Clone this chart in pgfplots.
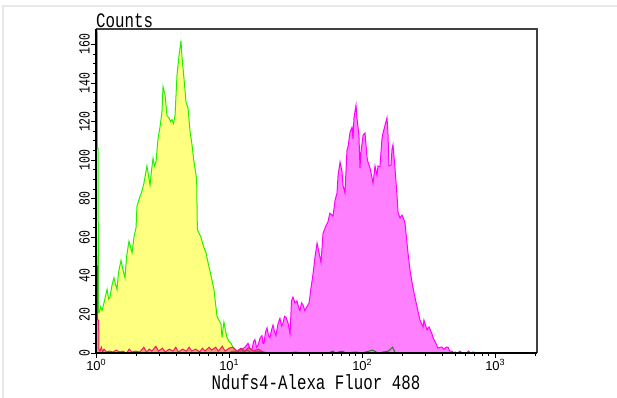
\documentclass[border=0pt]{standalone}
\usepackage{graphicx}
\usepackage{pgfplots}
\pgfplotsset{compat=1.18}
\usepackage{fontspec}
\setmainfont{Liberation Mono}
\newfontfamily\sansf{Liberation Sans}
\newfontfamily\monof{Liberation Mono}
\definecolor{yfill}{HTML}{FFFF80}
\definecolor{gline}{HTML}{22F000}
\definecolor{mfill}{HTML}{FF80FF}
\definecolor{mline}{HTML}{FF00FF}
\definecolor{rline}{HTML}{E8206A}
\definecolor{rfill}{HTML}{F04060}
\definecolor{dgreen}{HTML}{1E7A1E}
\newcommand\ys[1]{\scalebox{1}[1.35]{\monof\fontsize{11.5}{12}\selectfont #1}}
\newcommand\xt[1]{{\sansf\fontsize{13}{13}\selectfont 10\raisebox{0.75ex}{\fontsize{9}{9}\selectfont #1}}}
\begin{document}
\begin{tikzpicture}
\path[use as bounding box] (0,0) rectangle (617pt,397pt);
\draw[gray!18,line width=2pt] (3pt,-2pt) -- (3pt,391pt) -- (620pt,391pt);
\begin{axis}[
  at={(96pt,44pt)}, anchor=south west,
  width=441pt, height=324pt, scale only axis,
  xmin=0, xmax=3.316, ymin=0, ymax=168,
  axis line style={draw=none},
  xtick={0,1,2,3},
  xticklabels={\xt{0},\xt{1},\xt{2},\xt{3}},
  minor xtick={0.301,0.477,0.602,0.699,0.778,0.845,0.903,0.954,
               1.301,1.477,1.602,1.699,1.778,1.845,1.903,1.954,
               2.301,2.477,2.602,2.699,2.778,2.845,2.903,2.954,3.301},
  ytick={0,20,40,60,80,100,120,140,160},
  yticklabels={\ys{0},\ys{20},\ys{40},\ys{60},\ys{80},\ys{100},\ys{120},\ys{140},\ys{160}},
  minor y tick num=3,
  tick align=outside,
  xtick pos=bottom, ytick pos=left,
  major tick length=5pt, minor tick length=3pt,
  every tick/.style={black, line width=0.9pt},
  yticklabel style={rotate=90, anchor=south, inner sep=1pt},
  xticklabel style={inner sep=1pt},
  clip=true,
]
% magenta histogram
\addplot[fill=mfill, draw=mline, line width=1pt] coordinates {
(1.03,0)(1.05,0.5)(1.07,1)(1.083,0.5)(1.10,2)(1.12,3)(1.143,5)(1.16,2)(1.173,2)(1.185,6)(1.195,7)(1.207,3)(1.218,4)(1.235,8)(1.248,9)(1.256,5)(1.263,5)(1.275,11)(1.286,13)(1.297,9)(1.308,8)(1.320,12)(1.331,14.5)(1.342,11)(1.353,9)(1.368,15)(1.383,18)(1.395,14)(1.406,15.5)(1.418,19)(1.429,18.5)(1.444,15.5)(1.459,10)(1.47,27)(1.481,29)(1.496,26)(1.511,27)(1.522,24)(1.534,22)(1.545,26)(1.556,25)(1.57,22)(1.586,24)(1.602,26)(1.617,34)(1.632,41)(1.647,50)(1.662,57)(1.677,52)(1.692,47)(1.707,62)(1.729,66)(1.744,68)(1.759,72.5)(1.782,71)(1.797,79)(1.812,83)(1.820,92)(1.835,99)(1.850,94)(1.857,87)(1.872,83)(1.887,105)(1.895,107)(1.910,114.5)(1.925,117)(1.932,111)(1.940,122)(1.955,128.5)(1.962,122)(1.977,113)(1.985,96)(1.992,104)(2.008,113)(2.023,114)(2.038,101.5)(2.045,99)(2.060,96)(2.075,91)(2.083,88)(2.098,97)(2.113,92)(2.120,97)(2.135,96.5)(2.150,111)(2.158,114)(2.173,118)(2.188,122)(2.195,114.5)(2.203,97)(2.218,97.5)(2.226,106)(2.233,108)(2.248,96)(2.263,82)(2.271,73)(2.286,70)(2.301,71.5)(2.316,69)(2.324,67)(2.331,62)(2.346,52)(2.361,43)(2.383,34)(2.398,29)(2.414,24)(2.436,17)(2.459,13.5)(2.466,17)(2.489,12)(2.504,13.5)(2.526,10)(2.534,8)(2.556,5)(2.571,2.5)(2.59,3)(2.602,3)(2.615,2)(2.624,2.5)(2.635,3)(2.647,3)(2.66,1)(2.677,1)(2.69,0)(2.70,0.5)(2.72,0)(2.737,1)(2.75,0)(2.79,0)(2.80,1)(2.815,0)(2.835,0.5)(2.857,0)
} \closedcycle;
% yellow histogram with green outline
\addplot[fill=yfill, draw=gline, line width=1pt] coordinates {
(0,0)(0,300)(0.008,300)(0.010,106)(0.016,106)(0.018,21)(0.023,21)(0.035,24)(0.045,22)(0.06,26)(0.07,29)(0.083,33)(0.095,28)(0.105,29)(0.12,35)(0.135,39)(0.145,36)(0.158,33)(0.17,42)(0.188,48)(0.2,44)(0.218,39)(0.23,50)(0.248,58)(0.26,55)(0.271,52)(0.285,60)(0.301,65)(0.308,76)(0.325,80)(0.346,84)(0.36,88)(0.383,97)(0.395,92)(0.406,87)(0.418,95)(0.429,101)(0.440,97)(0.451,99)(0.466,111)(0.481,117)(0.496,125)(0.504,138)(0.519,134)(0.534,123)(0.549,122)(0.56,120)(0.571,121)(0.583,119)(0.594,123)(0.609,144)(0.624,154)(0.639,162)(0.647,153)(0.662,142)(0.677,130)(0.692,127)(0.707,115)(0.722,108)(0.735,100)(0.744,96)(0.757,90)(0.762,64)(0.789,60)(0.810,55)(0.827,52)(0.845,46)(0.865,40)(0.887,33)(0.900,25)(0.910,19)(0.925,17)(0.940,15)(0.947,8)(0.962,16)(0.975,11)(0.985,8)(1.000,6)(1.015,5)(1.038,2)(1.06,1)(1.08,0)
} \closedcycle;
% dark green tail
\addplot[draw=dgreen, line width=1pt] coordinates {
(1.00,0)(1.03,1)(1.06,0.5)(1.09,2)(1.11,0.5)(1.14,1.5)(1.17,0)(1.2,1)(1.25,0.5)(1.3,0)(1.45,0)(1.5,0.5)(1.55,0)(1.75,0)(1.78,1)(1.8,0)(1.85,1)(1.88,0)(1.95,0.5)(2.0,0)(2.08,1.5)(2.12,0)(2.2,1)(2.23,3)(2.25,0)(2.3,0)
};
% red histogram
\addplot[fill=rfill, fill opacity=0.55, draw=rline, line width=1pt] coordinates {
(0,0)(0,60)(0.005,60)(0.006,45)(0.012,45)(0.013,17)(0.02,17)(0.022,2)(0.03,1)(0.04,3)(0.05,0.5)(0.06,2)(0.08,0.5)(0.1,1)(0.13,0.5)(0.15,1.5)(0.18,0.5)(0.2,1)(0.23,0)(0.25,2)(0.27,0.5)(0.3,1)(0.33,0.5)(0.36,3)(0.38,0.5)(0.4,2)(0.42,1)(0.45,3.5)(0.47,1)(0.5,2.5)(0.52,0.5)(0.55,2)(0.58,1)(0.6,3)(0.62,0.5)(0.65,2)(0.68,1)(0.7,3)(0.72,1)(0.75,2)(0.78,0.5)(0.8,2.5)(0.82,1)(0.85,3)(0.87,1.5)(0.9,3)(0.92,1)(0.95,3.5)(0.97,1)(1.0,2.5)(1.03,3)(1.06,1)(1.09,2.5)(1.12,1)(1.15,3)(1.18,1)(1.22,2)(1.26,0.5)(1.3,0)
} \closedcycle;
\end{axis}
\draw[black!75, line width=1.2pt] (96pt,368pt) -- (537pt,368pt) -- (537pt,44pt);
\draw[black, line width=1.6pt] (96pt,368pt) -- (96pt,44pt) -- (537pt,44pt);
\node[anchor=base west, inner sep=0pt] at (96pt,369.5pt) {\scalebox{1}[1.3]{\monof\fontsize{15.8}{16}\selectfont Counts}};
\node[anchor=base, inner sep=0pt] at (316pt,8pt) {\scalebox{1}[1.3]{\monof\fontsize{15.8}{16}\selectfont Ndufs4-Alexa Fluor 488}};
\end{tikzpicture}
\end{document}
